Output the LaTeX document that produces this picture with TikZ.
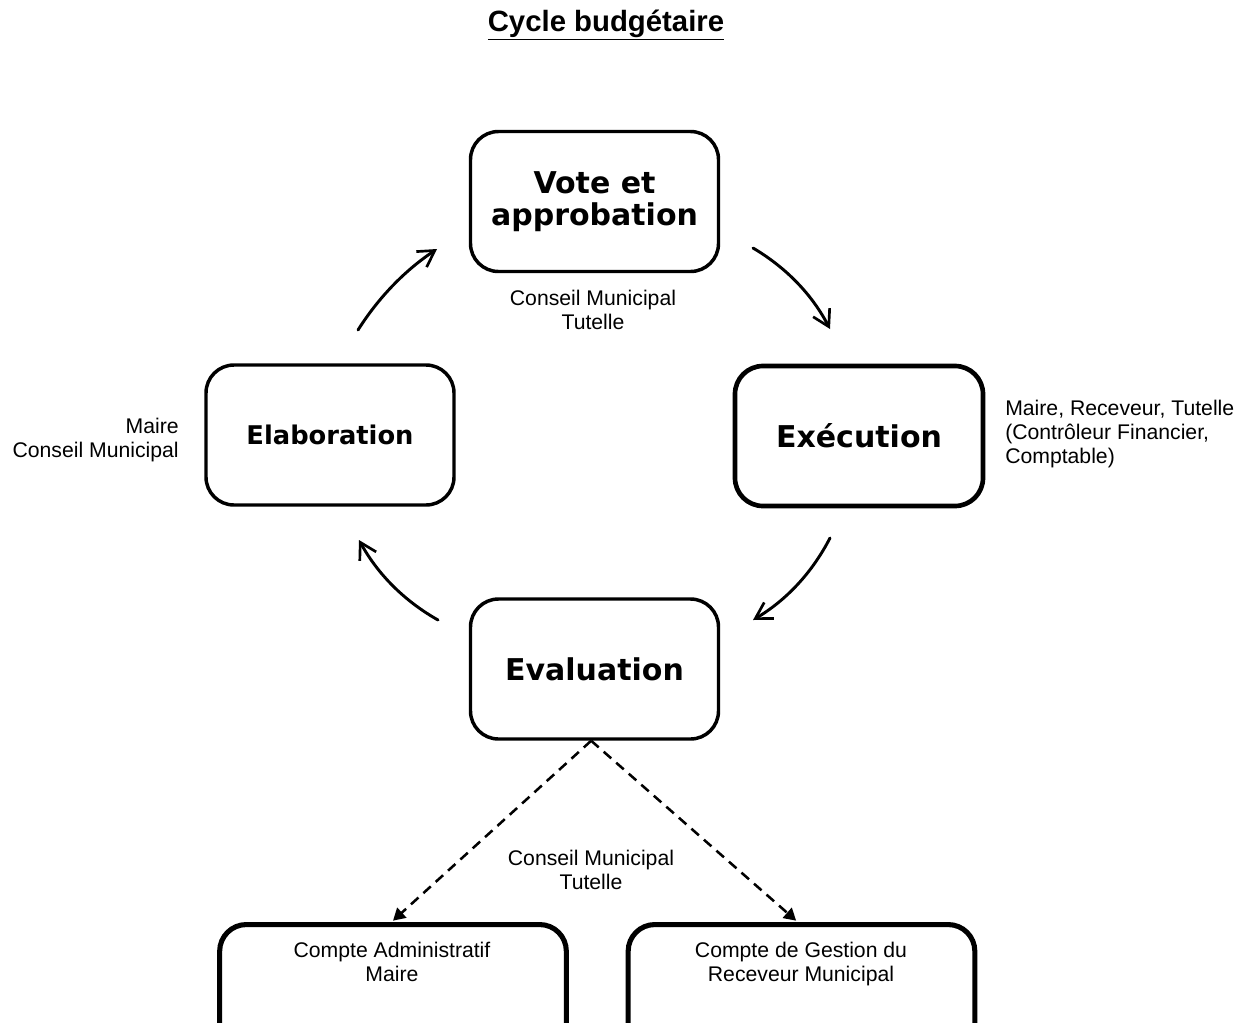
\documentclass[tikz,border=0pt]{standalone}
\usepackage{fontspec}
\setmainfont{Liberation Sans}
\newfontfamily\boxfont{DejaVu Sans}
\usetikzlibrary{arrows.meta}
\tikzset{
  stagebox/.style={draw, line width=2.6pt, rounded corners=21pt, inner sep=0pt,
    minimum width=186pt, minimum height=105pt, align=center,
    font=\boxfont\bfseries\fontsize{22.5}{24}\selectfont},
  resultbox/.style={draw, line width=3.8pt, rounded corners=20pt, inner sep=0pt,
    minimum width=260pt, minimum height=110pt},
  lbl/.style={inner sep=0pt, font=\fontsize{15.9}{18}\selectfont},
  cyclearrow/.style={line width=2.2pt, line cap=round,
    -{Straight Barb[length=12pt,width=14pt,line width=2pt]}},
  dasharrow/.style={line width=1.9pt, dash pattern=on 7.5pt off 5pt,
    -{Triangle[length=9pt,width=10pt]}}
}
\begin{document}
\begin{tikzpicture}[x=0.75pt,y=-0.75pt]
\useasboundingbox (0,0) rectangle (1250,1022);
\clip (0,0) rectangle (1250,1022);

% title
\node[inner sep=0pt, font=\bfseries\fontsize{22}{26}\selectfont] (title) at (606,25) {\underline{Cycle budgétaire}};

% stage boxes
\node[stagebox] (vote) at (594.5,201.5) {Vote et\\approbation};
\node[stagebox, font=\boxfont\bfseries\fontsize{19.3}{22}\selectfont] (elab) at (330,435) {Elaboration};
\node[stagebox, line width=3.5pt] (exec) at (859,436) {Exécution};
\node[stagebox] (eval) at (594.5,669) {Evaluation};

% result boxes
\node[resultbox, anchor=north] (ca) at (393,922) {};
\node[resultbox, anchor=north] (cg) at (801.5,922) {};
\node[lbl, align=center] (catext) at (392,962) {Compte Administratif\\Maire};
\node[lbl, align=center] (cgtext) at (801,964) {Compte de Gestion du\\Receveur Municipal};

% actor labels
\node[lbl, align=center] (voteactors) at (593,310) {Conseil Municipal\\Tutelle};
\node[lbl, align=right, anchor=east] (elabactors) at (179,440) {Maire\\Conseil Municipal};
\node[lbl, align=left, anchor=west] (execactors) at (1005,434) {Maire, Receveur, Tutelle\\(Contrôleur Financier,\\Comptable)};
\node[lbl, align=center] (evalactors) at (591,870) {Conseil Municipal\\Tutelle};

% cycle arrow end points
\coordinate (a1s) at (358,330);
\coordinate (a1e) at (437,249);
\coordinate (a2s) at (753,248);
\coordinate (a2e) at (830,329);
\coordinate (a3s) at (830,538);
\coordinate (a3e) at (753,620);
\coordinate (a4s) at (438,620);
\coordinate (a4e) at (359,540);

\draw[cyclearrow] (a1s) .. controls (378.6,297.4) and (404.9,270.4) .. (a1e);
\draw[cyclearrow] (a2s) .. controls (786.4,267.7) and (812.1,294.7) .. (a2e);
\draw[cyclearrow] (a3s) .. controls (812.1,572.7) and (786.5,600) .. (a3e);
\draw[cyclearrow] (a4s) .. controls (404.1,600.8) and (377.7,574.1) .. (a4e);

% dashed arrows
\draw[dasharrow] ([xshift=-2.5pt]eval.south) -- ([yshift=1pt]ca.north);
\draw[dasharrow] ([xshift=-2.5pt]eval.south) -- ([xshift=-4pt,yshift=1pt]cg.north);
\end{tikzpicture}
\end{document}
